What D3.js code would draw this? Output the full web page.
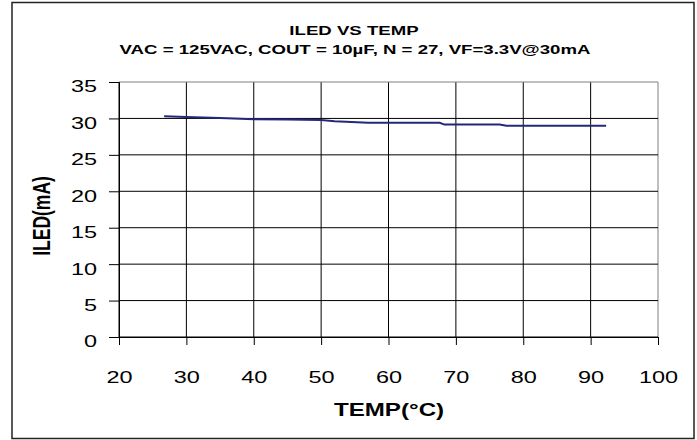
<!DOCTYPE html>
<html>
<head>
<meta charset="utf-8">
<script src="https://cdn.jsdelivr.net/npm/d3@7"></script>
<style>
  body { margin: 0; background: #fff; }
  text { font-family: "Liberation Sans", Arial, sans-serif; fill: #000; }
  .title { font-weight: bold; font-size: 13.5px; }
  .tick text { font-size: 17px; font-family: "Liberation Sans", Arial, sans-serif; }
  .axis-title { font-weight: bold; font-size: 17.5px; }
</style>
</head>
<body>
<script>
var width = 697, height = 440;
// the source picture is stretched sideways, so text glyphs are wider than tall
var stretch = 1.38;

// values
var temps = [26.7, 30, 35, 40, 45, 50, 52, 57, 60, 65, 67.6, 68.3, 72, 76.5, 77.5, 85, 92.3];
var iled  = [30.3, 30.2, 30.05, 29.9, 29.85, 29.8, 29.6, 29.4, 29.4, 29.4, 29.4, 29.15, 29.15, 29.15, 29.0, 29.0, 29.0];
var xTicks = [20, 30, 40, 50, 60, 70, 80, 90, 100];
var yTicks = [0, 5, 10, 15, 20, 25, 30, 35];

var margin = {left: 119, right: 697 - 658, top: 82, bottom: 440 - 337};

var svg = d3.select("body")
            .append("svg")
            .attr("width", width)
            .attr("height", height);

// outer frame
svg.append("rect")
   .attr("x", 12).attr("y", 2.5)
   .attr("width", 682).attr("height", 436)
   .style("fill", "white")
   .style("stroke", "#222")
   .style("stroke-width", 1.5);

var x = d3.scaleLinear().domain([20, 100]).range([margin.left, width - margin.right]);
var y = d3.scaleLinear().domain([0, 35]).range([height - margin.bottom, margin.top]);

// grid
svg.append("g")
   .selectAll("line")
   .data(xTicks)
   .enter()
   .append("line")
   .attr("x1", function(d){ return x(d) }).attr("x2", function(d){ return x(d) })
   .attr("y1", y(35)).attr("y2", y(0))
   .style("stroke", function(d){ return d == 100 ? "#808080" : "#000" })
   .style("stroke-width", 1);

svg.append("g")
   .selectAll("line")
   .data(yTicks)
   .enter()
   .append("line")
   .attr("x1", x(20)).attr("x2", x(100))
   .attr("y1", function(d){ return y(d) }).attr("y2", function(d){ return y(d) })
   .style("stroke", function(d){ return d == 35 ? "#808080" : "#000" })
   .style("stroke-width", 1);

// axes
var xAxis = svg.append("g")
   .attr("transform", "translate(0," + y(0) + ")")
   .call(d3.axisBottom(x).tickValues(xTicks).tickSize(8));
var yAxis = svg.append("g")
   .attr("transform", "translate(" + x(20) + ",0)")
   .call(d3.axisLeft(y).tickValues(yTicks).tickSize(10));
[xAxis, yAxis].forEach(function(a){
  a.select(".domain").style("stroke", "#000");
  a.selectAll(".tick line").style("stroke", "#000");
});
xAxis.selectAll(".tick text")
     .attr("y", 46).attr("dy", 0)
     .attr("transform", "scale(" + stretch + ",1)");
yAxis.selectAll(".tick text")
     .attr("x", -22 / stretch).attr("dy", "0.32em")
     .attr("transform", "translate(0,4.5) scale(" + stretch + ",1)");

// line
var pts = temps.map(function(t, i){ return [t, iled[i]] });
svg.append("path")
   .datum(pts)
   .attr("d", d3.line().x(function(d){ return x(d[0]) }).y(function(d){ return y(d[1]) }))
   .style("fill", "none")
   .style("stroke", "#24287a")
   .style("stroke-width", 2);

// titles
svg.append("text")
   .attr("class", "title")
   .attr("transform", "translate(354,35) scale(" + stretch + ",1)")
   .attr("text-anchor", "middle")
   .text("ILED VS TEMP");
svg.append("text")
   .attr("class", "title")
   .attr("transform", "translate(355,54) scale(" + stretch + ",1)")
   .attr("text-anchor", "middle")
   .text("VAC = 125VAC, COUT = 10\u00b5F, N = 27, VF=3.3V@30mA");

svg.append("text")
   .attr("class", "axis-title")
   .attr("transform", "translate(389,416) scale(" + stretch + ",1)")
   .attr("text-anchor", "middle")
   .text("TEMP(\u00b0C)");
svg.append("text")
   .attr("class", "axis-title")
   .attr("transform", "translate(50,216) scale(" + stretch + ",1) rotate(-90)")
   .attr("text-anchor", "middle")
   .text("ILED(mA)");
</script>
</body>
</html>
